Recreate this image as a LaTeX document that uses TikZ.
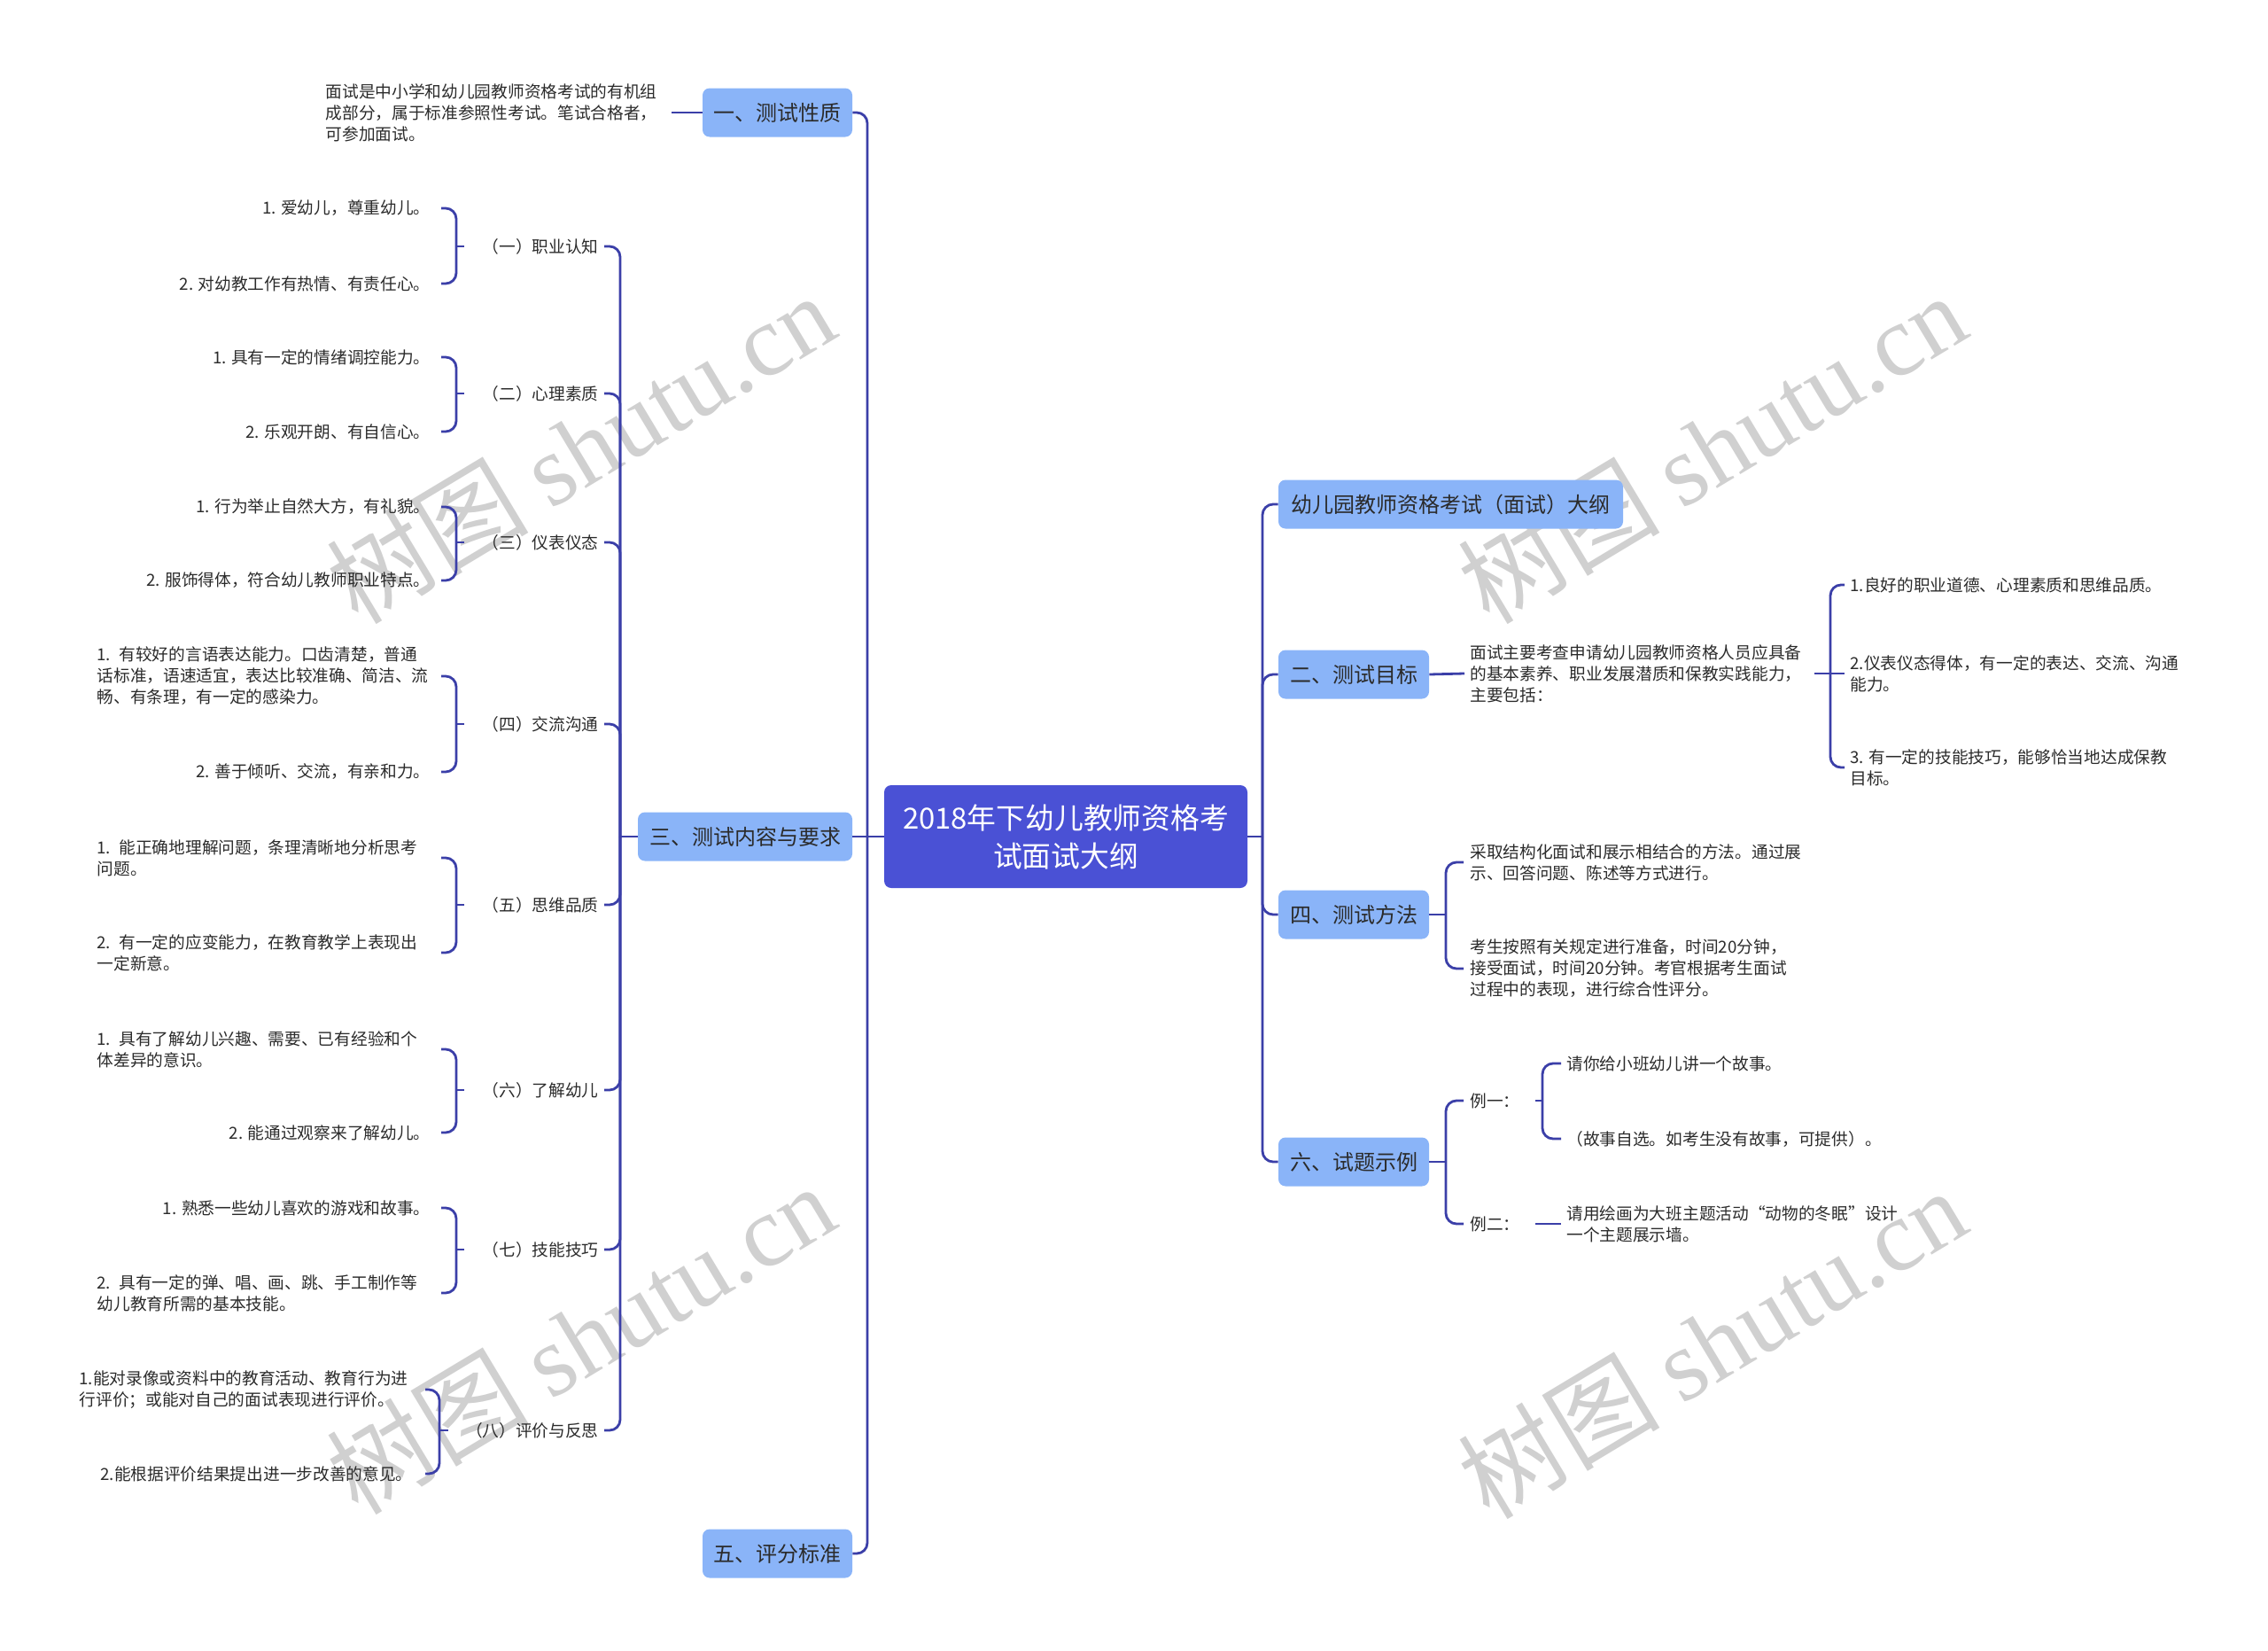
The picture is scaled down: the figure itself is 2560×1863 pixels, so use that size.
\documentclass[tikz,border=0pt]{standalone}
\usepackage{fontspec}
\setmainfont{Noto Sans CJK SC}
\newfontfamily\wmlatin{Liberation Serif}
\definecolor{rootc}{HTML}{4A51D5}
\definecolor{mainc}{HTML}{8AB4F8}
\definecolor{linec}{HTML}{3B3FA8}
\definecolor{txtc}{HTML}{2B2B2B}
\definecolor{wmc}{HTML}{D0D0D0}
\begin{document}
\begin{tikzpicture}[x=0.5pt,y=-0.5pt,
  rootbox/.style={fill=rootc,rounded corners=4pt,text=white,font=\fontsize{16.4}{21.5}\selectfont,align=center,minimum width=205pt,minimum height=58pt,inner sep=0pt},
  mainbox/.style={fill=mainc,rounded corners=4pt,text=txtc,font=\fontsize{12}{14}\selectfont,minimum height=27.5pt,inner sep=0pt},
  leaf/.style={text=txtc,font=\fontsize{9.35}{12}\selectfont,inner ysep=0pt,inner xsep=3pt},
  leafr/.style={leaf,anchor=east,align=right},
  leafw/.style={leaf,anchor=east,align=left,text width=188pt},
  leafe/.style={leaf,anchor=west,align=left},
  subtxt/.style={leaf,anchor=east},
  conn/.style={draw=linec,line width=1.4pt,rounded corners=6pt},
  wm/.style={text=wmc,rotate=31,inner sep=0pt,font=\fontsize{57}{62}\selectfont}
]
\useasboundingbox (0,0) rectangle (2560,1863);

% watermarks
\node[wm] (w1) at (655,505) {树图 {\wmlatin shutu.cn}};
\node[wm] (w2) at (1932,505) {树图 {\wmlatin shutu.cn}};
\node[wm] (w3) at (655,1510) {树图 {\wmlatin shutu.cn}};
\node[wm] (w4) at (1932,1515) {树图 {\wmlatin shutu.cn}};

% root
\node[rootbox] (root) at (1203,944) {2018年下幼儿教师资格考\\试面试大纲};

% main branches
\node[mainbox,minimum width=84.5pt] (b1) at (877.5,127) {一、测试性质};
\node[mainbox,minimum width=121pt] (b3) at (841,944) {三、测试内容与要求};
\node[mainbox,minimum width=84.5pt] (b5) at (877.5,1753) {五、评分标准};
\node[mainbox,minimum width=194.5pt] (r0) at (1637.5,569) {幼儿园教师资格考试（面试）大纲};
\node[mainbox,minimum width=85pt] (r2) at (1528,761) {二、测试目标};
\node[mainbox,minimum width=85pt] (r4) at (1528,1032) {四、测试方法};
\node[mainbox,minimum width=85pt] (r6) at (1528,1311) {六、试题示例};

% junctions
\coordinate (kl) at (979,944);
\coordinate (kr) at (1425,944);
\coordinate (k3) at (700,944);

% trunks
\draw[conn] (root.west) -- (b3.east);
\draw[conn] (b1.east) -| (kl);
\draw[conn] (b5.east) -| (kl);
\draw[conn] (root.east) -- (kr);
\draw[conn] (r0.west) -| (kr);
\draw[conn] (r2.west) -| (kr);
\draw[conn] (r4.west) -| (kr);
\draw[conn] (r6.west) -| (kr);

% 一 leaf
\node[leafw] (l0) at (750,127) {面试是中小学和幼儿园教师资格考试的有机组\\成部分，属于标准参照性考试。笔试合格者，\\可参加面试。};
\draw[conn] ([xshift=4pt]l0.east) -- (b1.west);

% 三 subtree
\node[subtxt] (s1) at (682,278) {（一）职业认知};
\node[subtxt] (s2) at (682,444) {（二）心理素质};
\node[subtxt] (s3) at (682,612) {（三）仪表仪态};
\node[subtxt] (s4) at (682,817) {（四）交流沟通};
\node[subtxt] (s5) at (682,1021) {（五）思维品质};
\node[subtxt] (s6) at (682,1230) {（六）了解幼儿};
\node[subtxt] (s7) at (682,1410) {（七）技能技巧};
\node[subtxt] (s8) at (682,1614) {（八）评价与反思};
\draw[conn] (b3.west) -- (k3);
\foreach \s in {s1,s2,s3,s4,s5,s6,s7,s8}{\draw[conn] (\s.east) -| (k3);}

\node[leafr] (l11) at (492,235) {1. 爱幼儿，尊重幼儿。};
\node[leafr] (l12) at (492,320) {2. 对幼教工作有热情、有责任心。};
\node[leafr] (l21) at (492,403) {1. 具有一定的情绪调控能力。};
\node[leafr] (l22) at (492,487) {2. 乐观开朗、有自信心。};
\node[leafr] (l31) at (492,572) {1. 行为举止自然大方，有礼貌。};
\node[leafr] (l32) at (492,655) {2. 服饰得体，符合幼儿教师职业特点。};
\node[leafw] (l41) at (492,763) {1. 有较好的言语表达能力。口齿清楚，普通\\话标准，语速适宜，表达比较准确、简洁、流\\畅、有条理，有一定的感染力。};
\node[leafr] (l42) at (492,871) {2. 善于倾听、交流，有亲和力。};
\node[leafw] (l51) at (492,968) {1. 能正确地理解问题，条理清晰地分析思考\\问题。};
\node[leafw] (l52) at (492,1075) {2. 有一定的应变能力，在教育教学上表现出\\一定新意。};
\node[leafw] (l61) at (492,1184) {1. 具有了解幼儿兴趣、需要、已有经验和个\\体差异的意识。};
\node[leafr] (l62) at (492,1278) {2. 能通过观察来了解幼儿。};
\node[leafr] (l71) at (492,1363) {1. 熟悉一些幼儿喜欢的游戏和故事。};
\node[leafw] (l72) at (492,1459) {2. 具有一定的弹、唱、画、跳、手工制作等\\幼儿教育所需的基本技能。};
\node[leafw] (l81) at (472,1568) {1.能对录像或资料中的教育活动、教育行为进\\行评价；或能对自己的面试表现进行评价。};
\node[leafr] (l82) at (472,1663) {2.能根据评价结果提出进一步改善的意见。};

\coordinate (k31) at (515,278);
\coordinate (k32) at (515,444);
\coordinate (k33) at (515,612);
\coordinate (k34) at (515,817);
\coordinate (k35) at (515,1021);
\coordinate (k36) at (515,1230);
\coordinate (k37) at (515,1410);
\coordinate (k38) at (496,1614);
\foreach \i in {1,...,7}{
  \draw[conn] ([xshift=3pt]l\i1.east) -| (k3\i) |- ([xshift=3pt]l\i2.east);
  \draw[conn] (k3\i) -- ([xshift=-7pt]s\i.west);
}
\draw[conn] ([xshift=4pt]l81.east) -| (k38) |- ([xshift=4pt]l82.east);
\draw[conn] (k38) -- ([xshift=-7pt]s8.west);

% 二 subtree
\node[leafe] (t2) at (1653,760) {面试主要考查申请幼儿园教师资格人员应具备\\的基本素养、职业发展潜质和保教实践能力，\\主要包括：};
\draw[conn] (r2.east) -- (t2.west);
\coordinate (k2) at (2066,760);
\node[leafe] (g1) at (2082,660) {1.良好的职业道德、心理素质和思维品质。};
\node[leafe] (g2) at (2082,760) {2.仪表仪态得体，有一定的表达、交流、沟通\\能力。};
\node[leafe] (g3) at (2082,866) {3. 有一定的技能技巧，能够恰当地达成保教\\目标。};
\draw[conn] ([xshift=4pt]t2.east) -- (k2);
\draw[conn] (g1.west) -| (k2) |- (g3.west);
\draw[conn] (k2) -- (g2.west);

% 四 subtree
\coordinate (k4) at (1632,1032);
\node[leafe,inner xsep=3.5pt] (m1) at (1652,973) {采取结构化面试和展示相结合的方法。通过展\\示、回答问题、陈述等方式进行。};
\node[leafe,inner xsep=3.5pt] (m2) at (1652,1093) {考生按照有关规定进行准备，时间20分钟，\\接受面试，时间20分钟。考官根据考生面试\\过程中的表现，进行综合性评分。};
\draw[conn] (r4.east) -- (k4);
\draw[conn] (m1.west) -| (k4) |- (m2.west);

% 六 subtree
\coordinate (k6) at (1632,1311);
\node[leafe,inner xsep=3.5pt] (e1) at (1652,1242) {例一：};
\node[leafe,inner xsep=3.5pt] (e2) at (1652,1381) {例二：};
\draw[conn] (r6.east) -- (k6);
\draw[conn] (e1.west) -| (k6) |- (e2.west);
\coordinate (k61) at (1741,1242);
\node[leafe] (f1) at (1762,1200) {请你给小班幼儿讲一个故事。};
\node[leafe] (f2) at (1762,1285) {（故事自选。如考生没有故事，可提供）。};
\node[leafe] (f3) at (1762,1381) {请用绘画为大班主题活动“动物的冬眠”设计\\一个主题展示墙。};
\draw[conn] ([xshift=5pt]e1.east) -- (k61);
\draw[conn] (f1.west) -| (k61) |- (f2.west);
\draw[conn] ([xshift=5pt]e2.east) -- (f3.west);
\end{tikzpicture}
\end{document}
